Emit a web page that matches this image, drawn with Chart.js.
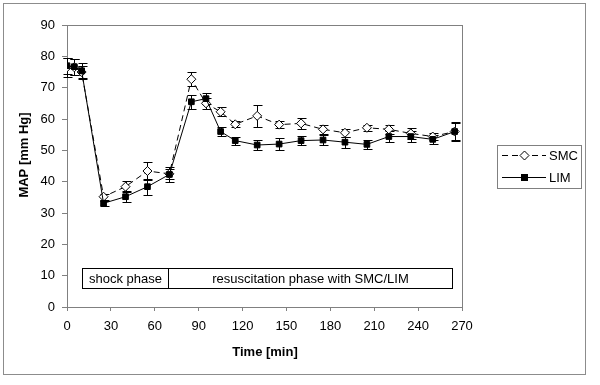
<!DOCTYPE html>
<html>
<head>
<meta charset="utf-8">
<script src="https://cdn.jsdelivr.net/npm/chart.js@4/dist/chart.umd.min.js"></script>
<style>
  html, body { margin: 0; padding: 0; background: #fff; }
</style>
</head>
<body>
<canvas id="mapChart" width="600" height="385"></canvas>
<script>
// time points [min]
var times = [0, 5, 10, 25, 40, 55, 70, 85, 95, 105, 115, 130, 145, 160, 175, 190, 205, 220, 235, 250, 265];

// MAP [mm Hg], mean and error (SD) per group
var smcMean = [76.5, 76.5, 75.0, 35.2, 38.4, 43.4, 42.5, 72.7, 65.0, 62.3, 58.3, 61.0, 58.2, 58.6, 56.7, 55.6, 57.2, 56.7, 55.4, 54.4, 56.0];
var smcErr  = [3.0, 2.5, 2.0, 1.0, 1.8, 2.8, 1.5, 2.2, 1.8, 1.5, 1.0, 3.5, 1.2, 1.8, 1.5, 1.2, 1.0, 1.5, 1.8, 1.0, 3.0];
var limMean = [77.0, 76.7, 75.4, 33.1, 35.2, 38.4, 42.3, 65.5, 66.5, 56.0, 53.1, 51.7, 52.0, 53.1, 53.3, 52.6, 51.9, 54.4, 54.4, 53.5, 56.0];
var limErr  = [2.5, 2.5, 2.5, 0.8, 1.8, 2.5, 2.5, 2.2, 1.8, 1.5, 1.3, 1.5, 2.0, 1.5, 1.5, 1.8, 1.5, 1.8, 1.8, 1.5, 2.8];

// phase annotation boxes (x in min, y in mm Hg)
var phaseLabels = ['shock phase', 'resuscitation phase with SMC/LIM'];
var phaseFrom = [10, 69];
var phaseTo = [69, 263];
var phaseLow = 6.1, phaseHigh = 12.4;

var FONT = '"Liberation Sans", Arial, sans-serif';
Chart.defaults.font.family = FONT;
Chart.defaults.font.size = 13;
Chart.defaults.color = '#000';

function toPoints(xs, ys) {
    return xs.map(function(x, i) { return { x: x, y: ys[i] }; });
}

var decorPlugin = {
    id: 'decor',
    beforeDraw: function(chart) {
        var c = chart.ctx, a = chart.chartArea;
        c.save();
        c.fillStyle = '#fff';
        c.fillRect(0, 0, chart.width, chart.height);
        c.strokeStyle = '#8c8c8c';
        c.lineWidth = 1;
        c.strokeRect(3.5, 3.5, 582, 371);           // outer frame
        c.strokeStyle = '#808080';
        c.strokeRect(a.left + 0.5, a.top + 0.5, a.right - a.left, a.bottom - a.top);
        c.restore();
    },
    beforeDatasetsDraw: function(chart) {
        var c = chart.ctx;
        var xs = chart.scales.x, ys = chart.scales.y;
        c.save();
        // phase boxes
        c.strokeStyle = '#000';
        c.lineWidth = 1;
        c.font = '13px ' + FONT;
        c.textAlign = 'center';
        c.textBaseline = 'middle';
        c.fillStyle = '#000';
        var yt = Math.round(ys.getPixelForValue(phaseHigh)) + 0.5;
        var yb = Math.round(ys.getPixelForValue(phaseLow)) + 0.5;
        for (var p = 0; p < phaseLabels.length; p++) {
            var x0 = Math.round(xs.getPixelForValue(phaseFrom[p])) + 0.5;
            var x1 = Math.round(xs.getPixelForValue(phaseTo[p])) + 0.5;
            c.strokeRect(x0, yt, x1 - x0, yb - yt);
            c.fillText(phaseLabels[p], (x0 + x1) / 2, (yt + yb) / 2 + 1);
        }
        // error bars
        var errs = [smcErr, limErr], means = [smcMean, limMean];
        for (var d = 0; d < 2; d++) {
            var meta = chart.getDatasetMeta(d);
            meta.data.forEach(function(pt, j) {
                var x = Math.round(pt.x) + 0.5;
                var top = Math.round(ys.getPixelForValue(means[d][j] + errs[d][j])) + 0.5;
                var bot = Math.round(ys.getPixelForValue(means[d][j] - errs[d][j])) + 0.5;
                c.beginPath();
                c.moveTo(x, top); c.lineTo(x, bot);
                c.moveTo(x - 4, top); c.lineTo(x + 5, top);
                c.moveTo(x - 4, bot); c.lineTo(x + 5, bot);
                c.stroke();
            });
        }
        c.restore();
    },
    afterDraw: function(chart) {
        var c = chart.ctx;
        c.save();
        // axis titles
        c.fillStyle = '#000';
        c.font = 'bold 13px ' + FONT;
        c.textAlign = 'center';
        c.textBaseline = 'middle';
        c.fillText('Time [min]', 265, 352);
        c.translate(24, 155);
        c.rotate(-Math.PI / 2);
        c.fillText('MAP [mm Hg]', 0, 0);
        c.setTransform(1, 0, 0, 1, 0, 0);

        // legend
        c.strokeStyle = '#808080';
        c.strokeRect(497.5, 145.5, 84, 43);
        c.strokeStyle = '#000';
        c.lineWidth = 1;
        c.setLineDash([6, 4]);
        c.beginPath(); c.moveTo(502, 155.5); c.lineTo(546, 155.5); c.stroke();
        c.setLineDash([]);
        c.beginPath(); c.moveTo(502, 177.5); c.lineTo(546, 177.5); c.stroke();
        // diamond
        c.fillStyle = '#fff';
        c.beginPath();
        c.moveTo(524.5, 151); c.lineTo(529, 155.5); c.lineTo(524.5, 160); c.lineTo(520, 155.5);
        c.closePath(); c.fill(); c.stroke();
        // square
        c.fillStyle = '#000';
        c.fillRect(521, 174, 7, 7);
        c.font = '13px ' + FONT;
        c.textAlign = 'left';
        c.fillText('SMC', 549, 156);
        c.fillText('LIM', 549, 178);
        c.restore();
    }
};

var ctx = document.getElementById('mapChart').getContext('2d');
var mapChart = new Chart(ctx, {
    type: 'line',
    data: {
        datasets: [{
            label: 'SMC',
            data: toPoints(times, smcMean),
            order: 2,
            borderColor: '#000',
            borderWidth: 1,
            borderDash: [6, 4],
            pointStyle: 'rectRot',
            pointRadius: 4.5,
            pointBackgroundColor: '#fff',
            pointBorderColor: '#000',
            pointBorderWidth: 1,
            tension: 0
        }, {
            label: 'LIM',
            data: toPoints(times, limMean),
            order: 1,
            borderColor: '#000',
            borderWidth: 1,
            pointStyle: 'rect',
            pointRadius: 4,
            pointBackgroundColor: '#000',
            pointBorderColor: '#000',
            pointBorderWidth: 1,
            tension: 0
        }]
    },
    options: {
        responsive: false,
        animation: false,
        devicePixelRatio: 1,
        layout: { padding: { left: 0, top: 25, right: 138, bottom: 0 } },
        plugins: {
            legend: { display: false },
            tooltip: { enabled: false }
        },
        scales: {
            x: {
                type: 'linear',
                min: 0, max: 270,
                ticks: { stepSize: 30, padding: 8, color: '#000', maxRotation: 0 },
                grid: { drawOnChartArea: false, drawTicks: true, tickLength: 4, color: '#808080' },
                border: { display: true, color: '#808080' },
                afterFit: function(scale) { scale.height = 78; }
            },
            y: {
                min: 0, max: 90,
                ticks: { stepSize: 10, padding: 7, color: '#000' },
                grid: { drawOnChartArea: false, drawTicks: true, tickLength: 5, color: '#808080' },
                border: { display: true, color: '#808080' },
                afterFit: function(scale) { scale.width = 67; }
            }
        }
    },
    plugins: [decorPlugin]
});
</script>
</body>
</html>
